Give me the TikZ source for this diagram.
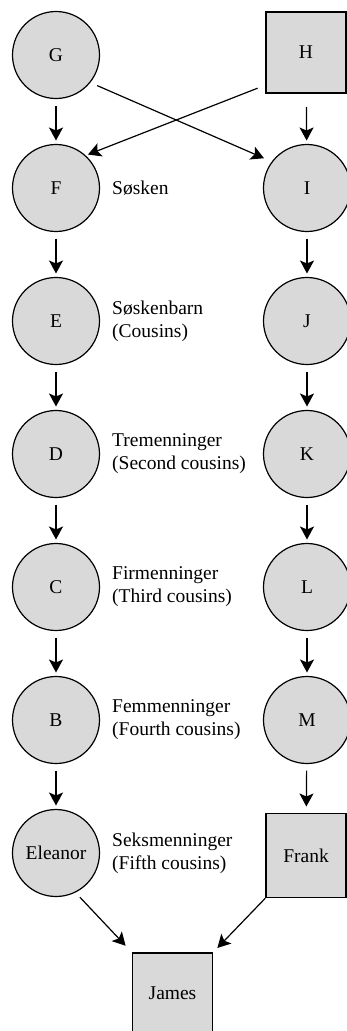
\documentclass[tikz,border=0pt]{standalone}
\usepackage{fontspec}
\setmainfont{Liberation Serif}
\usetikzlibrary{arrows.meta,calc}
\newcommand\dfs{\fontsize{19.5}{23}\selectfont}
\begin{document}
\begin{tikzpicture}[x=1pt,y=-1pt,
  person/.style={circle,draw,fill=gray!30,line width=1.2pt,minimum size=87pt,inner sep=0pt,outer sep=0pt,font=\dfs},
  box/.style={rectangle,draw,fill=gray!30,line width=1.2pt,minimum width=80pt,minimum height=81pt,inner sep=0pt,outer sep=0pt,font=\dfs},
  lbl/.style={anchor=west,align=left,font=\dfs,inner sep=0pt},
  arr/.style={-{Stealth[length=13pt,width=14pt,inset=3pt]},line width=1.2pt}]
\useasboundingbox (0,0) rectangle (346,1031);
% left column
\node[person] (G) at (56,55) {G};
\node[person] (F) at (56,188) {F};
\node[person] (E) at (56,321) {E};
\node[person] (D) at (56,454) {D};
\node[person] (C) at (56,587) {C};
\node[person] (B) at (56,720) {B};
\node[person] (Eleanor) at (56,853) {Eleanor};
% right column
\node[box] (H) at (306,52.5) {H};
\node[person] (I) at (307,188) {I};
\node[person] (J) at (307,321) {J};
\node[person] (K) at (307,454) {K};
\node[person] (L) at (307,587) {L};
\node[person] (M) at (307,720) {M};
\node[box,minimum height=84pt] (Frank) at (306,855.5) {Frank};
% bottom
\node[box] (James) at (172.5,993.5) {James};
% labels
\node[lbl] (l1) at (112,188) {Søsken};
\node[lbl] (l2) at (112,321) {Søskenbarn\\(Cousins)};
\node[lbl] (l3) at (112,454) {Tremenninger\\(Second cousins)};
\node[lbl] (l4) at (112,587) {Firmenninger\\(Third cousins)};
\node[lbl] (l5) at (112,720) {Femmenninger\\(Fourth cousins)};
\node[lbl] (l6) at (112,853) {Seksmenninger\\(Fifth cousins)};
% arrows
\foreach \a/\b in {G/F,F/E,E/D,D/C,C/B,B/Eleanor,I/J,J/K,K/L,L/M}
  \draw[arr,shorten <=7pt,shorten >=4pt] (\a) -- (\b);
\draw[arr,shorten <=14pt,shorten >=4pt] (H) -- (I);
\draw[arr,shorten <=7pt,shorten >=7pt] (M) -- (Frank);
\draw[arr,shorten <=8pt,shorten >=9pt] (G.-39) -- (I.143);
\draw[arr,shorten <=9pt,shorten >=3pt] (H.219) -- (F.48);
\draw[arr,shorten <=7pt,shorten >=10pt] (Eleanor.-64) -- (James.north west);
\draw[arr,shorten <=1pt,shorten >=7pt] (Frank.south west) -- (James.north east);
\end{tikzpicture}
\end{document}
